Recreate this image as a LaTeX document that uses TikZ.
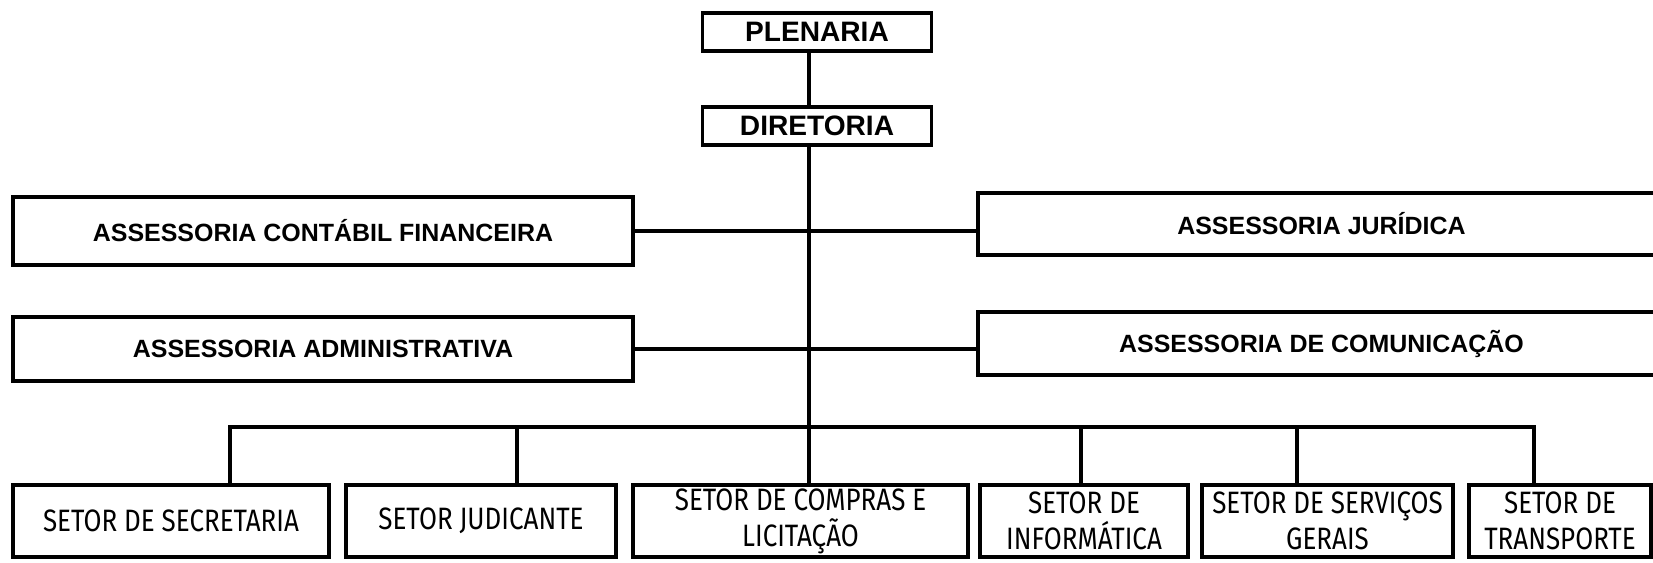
\documentclass[tikz,border=0pt]{standalone}
\usepackage{fontspec}
\setmainfont{Liberation Sans}
\newfontfamily\setorfont[FakeStretch=0.84]{Fira Sans}
\usetikzlibrary{positioning}
\tikzset{line/.style={line width=2.1pt},
    caixa/.style={draw,line width=2.1pt,inner sep=0pt,outer sep=0pt,align=center},
    topo/.style={caixa,minimum width=4.58cm,minimum height=0.76cm,
        font=\fontsize{16}{19}\selectfont\bfseries},
    assessoria/.style={caixa,font=\fontsize{14.2}{17}\selectfont\bfseries},
    setor/.style={caixa,minimum height=1.44cm,
        font=\setorfont\fontsize{17.6}{20.5}\selectfont},
    }

\begin{document}
\begin{tikzpicture}[x=0.02cm,y=-0.02cm]
\useasboundingbox (0,0) rectangle (1653,563);
\node[topo] (plen) at (817,32) {PLENARIA};
\node[topo,below=1.12cm of plen] (dir) {DIRETORIA};
% assessorias
\node[assessoria,minimum width=12.4cm,minimum height=1.36cm] (cont) at (323,231) {ASSESSORIA CONTÁBIL FINANCEIRA};
\node[assessoria,minimum width=13.74cm,minimum height=1.24cm] (jur) at (1321.5,224) {ASSESSORIA JURÍDICA};
\node[assessoria,minimum width=12.4cm,minimum height=1.28cm] (adm) at (323,349) {ASSESSORIA ADMINISTRATIVA};
\node[assessoria,minimum width=13.74cm,minimum height=1.26cm] (com) at (1321.5,343.5) {ASSESSORIA DE COMUNICAÇÃO};
% setores
\node[setor,minimum width=6.32cm] (sec) at (171,521) {SETOR DE SECRETARIA};
\node[setor,minimum width=5.4cm] (jud) at (481,521) {SETOR JUDICANTE};
\node[setor,minimum width=6.7cm] (comp) at (800.5,521) {SETOR DE COMPRAS E\\LICITAÇÃO};
\node[setor,minimum width=4.16cm] (inf) at (1084,521) {SETOR DE\\INFORMÁTICA};
\node[setor,minimum width=5.02cm] (serv) at (1327.5,521) {SETOR DE SERVIÇOS\\GERAIS};
\node[setor,minimum width=3.64cm] (transp) at (1560,521) {SETOR DE\\TRANSPORTE};
\foreach \n/\x in {sec/230,jud/517,comp/809,inf/1081,serv/1297,transp/1534}
    \coordinate (b-\n) at (\x,427);
\draw[line] (plen.south -| b-comp) -- (dir.north -| b-comp);
\draw[line] (dir.south -| b-comp) -- (b-comp);
\draw[line] (cont.east) -- (cont.east -| jur.west);
\draw[line] (adm.east) -- (adm.east -| com.west);
\draw[line] (sec.north -| b-sec) -- (b-sec) -- (b-transp) -- (transp.north -| b-transp);
\foreach \n in {jud,comp,inf,serv}
    \draw[line] (b-\n) -- (b-\n |- \n.north);
\end{tikzpicture}
\end{document}
